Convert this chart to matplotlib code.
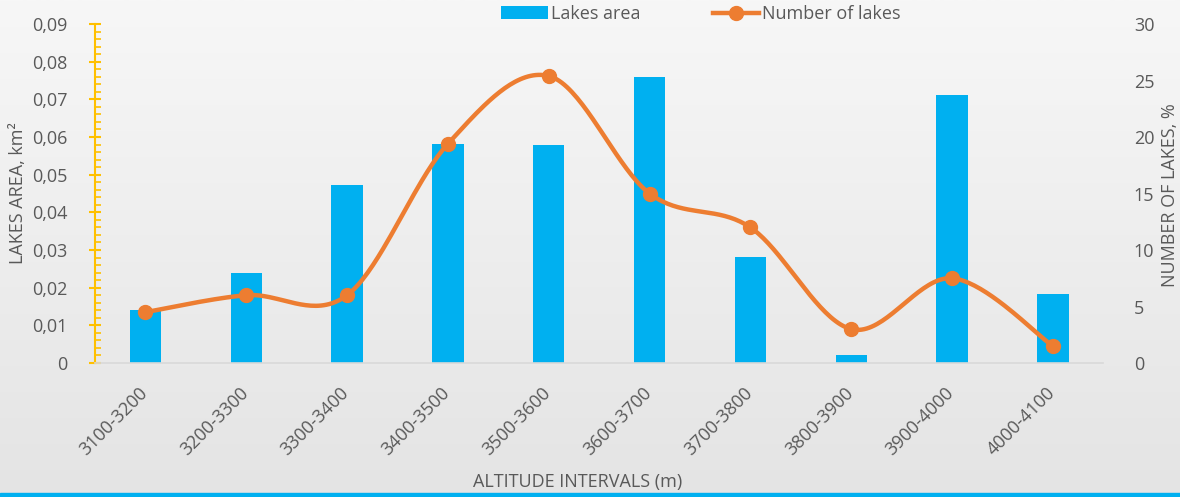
import numpy as np
import matplotlib
matplotlib.use("Agg")
import matplotlib.pyplot as plt
from matplotlib.ticker import FuncFormatter, MultipleLocator
from matplotlib.lines import Line2D
from matplotlib.patches import Patch
from matplotlib.transforms import ScaledTranslation

plt.rcParams['font.family'] = ['Open Sans', 'DejaVu Sans']

# altitude intervals, lake area (km²) and share of lakes (%)
intervals = ['3100-3200', '3200-3300', '3300-3400', '3400-3500', '3500-3600',
             '3600-3700', '3700-3800', '3800-3900', '3900-4000', '4000-4100']
lakes_area = [0.014, 0.024, 0.0473, 0.0582, 0.0578, 0.0758, 0.0281, 0.0022, 0.0711, 0.0182]
lakes_number = [4.5, 6.0, 6.0, 19.4, 25.4, 15.0, 12.0, 3.0, 7.5, 1.5]

BLUE = '#00B0F0'
ORANGE = '#ED7D31'
GOLD = '#FFC000'
TEXT = '#595959'


def smooth_curve(x, y, n=40):
    """Catmull-Rom style bezier through the points (like a smoothed line)."""
    x = np.asarray(x, float)
    y = np.asarray(y, float)
    pts = np.column_stack([x, y])
    ext = np.vstack([pts[0], pts, pts[-1]])
    out = []
    t = np.linspace(0, 1, n)[:, None]
    for i in range(len(pts) - 1):
        p0, p3 = ext[i + 1], ext[i + 2]
        c1 = p0 + (ext[i + 2] - ext[i]) / 6
        c2 = p3 - (ext[i + 3] - ext[i + 1]) / 6
        seg = ((1 - t) ** 3) * p0 + 3 * ((1 - t) ** 2) * t * c1 + 3 * (1 - t) * t ** 2 * c2 + t ** 3 * p3
        out.append(seg if i == 0 else seg[1:])
    out = np.vstack(out)
    return out[:, 0], out[:, 1]


fig = plt.figure(figsize=(11.8, 4.97), dpi=100)

# soft vertical gradient behind everything
bg = fig.add_axes([0, 0, 1, 1], zorder=-10)
grad = np.linspace(0, 1, 256)[:, None]
bg.imshow(grad, aspect='auto', cmap=matplotlib.colors.LinearSegmentedColormap.from_list(
    'bg', ['#F7F7F7', '#E4E4E4']), extent=[0, 1, 0, 1])
bg.axhspan(0, 0.008, color=BLUE)
bg.set_xlim(0, 1)
bg.set_ylim(0, 1)
bg.axis('off')

ax = fig.add_axes([0.0805, 0.2696, 0.8545, 0.6821])
ax.patch.set_alpha(0)
x = np.arange(len(intervals))
ax.bar(x, lakes_area, width=0.31, color=BLUE, zorder=2)
ax.set_xlim(-0.5, len(intervals) - 0.5)
ax.set_ylim(0, 0.09)
ax.yaxis.set_major_locator(MultipleLocator(0.01))
ax.yaxis.set_minor_locator(MultipleLocator(0.002))
ax.yaxis.set_major_formatter(FuncFormatter(
    lambda v, p: '0' if abs(v) < 1e-9 else f'{v:.2f}'.replace('.', ',')))

for side in ['top', 'right']:
    ax.spines[side].set_visible(False)
ax.spines['left'].set_color(GOLD)
ax.spines['left'].set_linewidth(1.5)
ax.spines['bottom'].set_color('#D9D9D9')
ax.spines['bottom'].set_linewidth(1.2)
ax.tick_params(axis='y', which='major', direction='inout', length=8, width=1.5,
               color=GOLD, labelsize=13, labelcolor=TEXT, pad=16)
ax.tick_params(axis='y', which='minor', direction='in', length=4, width=1.2, color=GOLD)
ax.tick_params(axis='x', length=0, labelsize=13, labelcolor=TEXT, pad=15)
ax.set_xticks(x)
ax.set_xticklabels(intervals, rotation=45, ha='right', rotation_mode='anchor')
shift = ScaledTranslation(-7 / 100, 0, fig.dpi_scale_trans)
for lbl in ax.get_xticklabels():
    lbl.set_transform(lbl.get_transform() + shift)

ax.set_ylabel('LAKES AREA, km²', fontsize=13, color=TEXT)
ax.yaxis.set_label_coords(-0.0764, 0.5)
ax.yaxis.label.set_va('center')
ax.set_xlabel('ALTITUDE INTERVALS (m)', fontsize=13, color=TEXT)
ax.xaxis.set_label_coords(0.479, -0.351)
ax.xaxis.label.set_va('center')

ax2 = ax.twinx()
ax2.set_ylim(0, 30)
ax2.yaxis.set_major_locator(MultipleLocator(5))
for side in ['top', 'right', 'left', 'bottom']:
    ax2.spines[side].set_visible(False)
ax2.tick_params(axis='y', length=0, labelsize=13, labelcolor=TEXT, pad=22)
ax2.set_ylabel('NUMBER OF LAKES, %', fontsize=13, color=TEXT)
ax2.yaxis.set_label_position('right')
ax2.yaxis.label.set_rotation(90)
ax2.yaxis.set_label_coords((1170 - 95) / 1008, (363 - 195) / 339)
ax2.yaxis.label.set_va('center')

sx, sy = smooth_curve(x, lakes_number)
ax2.plot(sx, sy, color=ORANGE, lw=3.2, solid_capstyle='round', zorder=3)
ax2.plot(x, lakes_number, 'o', color=ORANGE, ms=10, zorder=4)

handles = [Patch(facecolor=BLUE, edgecolor='none'),
           Line2D([], [], color=ORANGE, lw=3.2, marker='o', ms=10)]
fig.legend(handles, ['Lakes area', 'Number of lakes'], loc='center',
           bbox_to_anchor=(0.594, 1 - 14 / 497), ncol=2, frameon=False,
           fontsize=13, labelcolor=TEXT, columnspacing=4.0, handlelength=2.6,
           handletextpad=0.15)

fig.savefig('out.png', dpi=100)
